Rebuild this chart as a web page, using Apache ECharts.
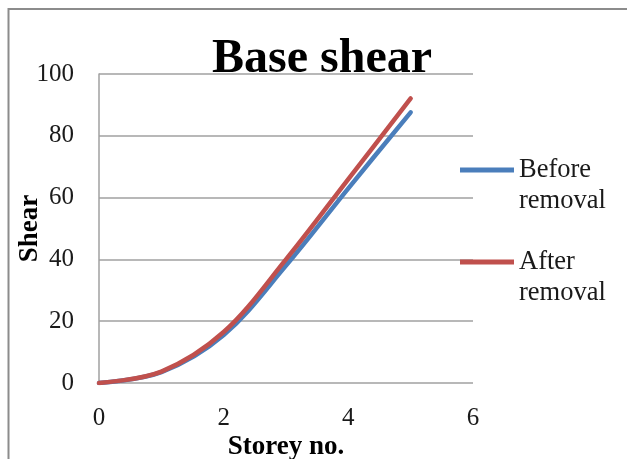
<!DOCTYPE html>
<html>
<head>
<meta charset="utf-8">
<style>
  html, body { margin: 0; padding: 0; background: #ffffff; }
  #chart { width: 627px; height: 459px; }
</style>
<script src="https://cdn.jsdelivr.net/npm/echarts@6/dist/echarts.min.js"></script>
</head>
<body>
<div id="chart"></div>
<script>
// Storey numbers and base shear values for each case
const storeys = [0, 1, 2, 3, 4, 5];
const shearBefore = [0, 3.5, 15.5, 38, 63, 87.6];
const shearAfter = [0, 3.7, 16.5, 40, 66, 92.1];
const xTicks = [0, 2, 4, 6];
const yTicks = [0, 20, 40, 60, 80, 100];
const seriesNames = ['Before\nremoval', 'After\nremoval'];

const serif = '"Liberation Serif", "Times New Roman", serif';
const chart = echarts.init(document.getElementById('chart'), null, { renderer: 'canvas' });

const pairs = (xs, ys) => xs.map((x, i) => [x, ys[i]]);

chart.setOption({
  animation: false,
  backgroundColor: '#ffffff',
  title: {
    text: 'Base shear',
    left: 207,
    top: 31,
    textStyle: { fontFamily: serif, fontWeight: 'bold', fontSize: 48, color: '#000000' }
  },
  graphic: [{
    type: 'rect',
    shape: { x: 8.5, y: 9, width: 700, height: 500 },
    style: { fill: 'none', stroke: '#8c8c8c', lineWidth: 2 },
    silent: true
  }],
  legend: {
    orient: 'vertical',
    left: 455,
    top: 118.5,
    itemWidth: 54,
    itemHeight: 5,
    itemGap: -1,
    icon: 'rect',
    // a leading blank line keeps the icon level with the first text line
    formatter: name => '\n' + name,
    textStyle: { fontFamily: serif, fontSize: 26.5, color: '#1a1a1a', lineHeight: 31 },
    data: seriesNames
  },
  grid: { left: 99, right: 154, top: 74, bottom: 76, outerBoundsMode: 'none', containLabel: false },
  xAxis: {
    type: 'value',
    min: xTicks[0],
    max: xTicks[xTicks.length - 1],
    interval: 2,
    name: 'Storey no.',
    nameLocation: 'middle',
    nameGap: 51,
    nameMoveOverlap: false,
    nameTextStyle: { fontFamily: serif, fontWeight: 'bold', fontSize: 27, color: '#000000' },
    axisLine: { show: false },
    axisTick: { show: false },
    splitLine: { show: false },
    axisLabel: { fontFamily: serif, fontSize: 25, color: '#1a1a1a', margin: 23 }
  },
  yAxis: {
    type: 'value',
    min: yTicks[0],
    max: yTicks[yTicks.length - 1],
    interval: 20,
    name: 'Shear',
    nameLocation: 'middle',
    nameGap: 55,
    nameRotate: 90,
    nameMoveOverlap: false,
    nameTextStyle: { fontFamily: serif, fontWeight: 'bold', fontSize: 27, color: '#000000' },
    axisLine: { show: true, lineStyle: { color: '#a0a0a0', width: 1.5 } },
    axisTick: { show: false },
    splitLine: { show: true, lineStyle: { color: '#a0a0a0', width: 1.5 } },
    axisLabel: { fontFamily: serif, fontSize: 25, color: '#1a1a1a', margin: 25 }
  },
  series: [
    {
      name: seriesNames[0],
      type: 'line',
      smooth: 0.35,
      symbol: 'none',
      data: pairs(storeys, shearBefore),
      lineStyle: { color: '#4a7ebb', width: 4.5, cap: 'round' },
      itemStyle: { color: '#4a7ebb' },
      z: 2
    },
    {
      name: seriesNames[1],
      type: 'line',
      smooth: 0.35,
      symbol: 'none',
      data: pairs(storeys, shearAfter),
      lineStyle: { color: '#c0504d', width: 4.5, cap: 'round' },
      itemStyle: { color: '#c0504d' },
      z: 3
    }
  ]
});
</script>
</body>
</html>
